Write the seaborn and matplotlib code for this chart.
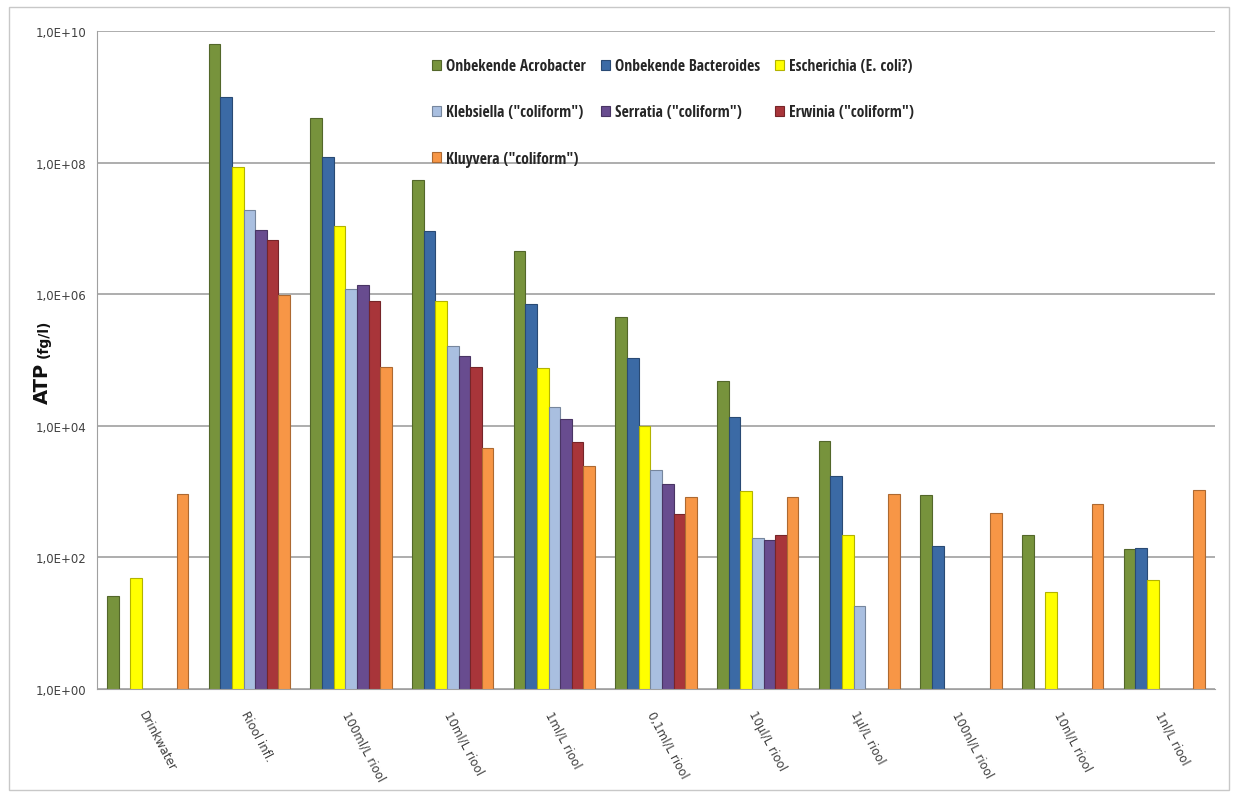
import numpy as np
import pandas as pd
import matplotlib
matplotlib.use("Agg")
import matplotlib.pyplot as plt
import matplotlib.colors as mcolors
import matplotlib.transforms as mtransforms
from matplotlib.patches import Rectangle
from matplotlib.ticker import FixedLocator, FuncFormatter, NullLocator
from matplotlib import font_manager
from matplotlib.textpath import TextPath
import seaborn as sns

categories = ["Drinkwater", "Riool infl.", "100ml/L riool", "10ml/L riool", "1ml/L riool",
              "0,1ml/L riool", "10µl/L riool", "1µl/L riool", "100nl/L riool",
              "10nl/L riool", "1nl/L riool"]

series_names = ["Onbekende Acrobacter", "Onbekende Bacteroides", "Escherichia (E. coli?)",
                "Klebsiella (\"coliform\")", "Serratia (\"coliform\")", "Erwinia (\"coliform\")",
                "Kluyvera (\"coliform\")"]

nan = np.nan
acrobacter  = [26, 6.3e9, 4.7e8, 5.5e7, 4.5e6, 4.5e5, 4.8e4, 5.8e3, 8.7e2, 2.2e2, 1.35e2]
bacteroides = [nan, 1.0e9, 1.2e8, 9.1e6, 7.0e5, 1.07e5, 1.35e4, 1.7e3, 1.5e2, nan, 1.4e2]
escherichia = [48, 8.5e7, 1.1e7, 8.0e5, 7.6e4, 1.0e4, 1.03e3, 2.2e2, nan, 30, 45]
klebsiella  = [nan, 1.9e7, 1.2e6, 1.65e5, 1.9e4, 2.1e3, 1.96e2, 18, nan, nan, nan]
serratia    = [nan, 9.3e6, 1.4e6, 1.15e5, 1.25e4, 1.3e3, 1.8e2, nan, nan, nan, nan]
erwinia     = [nan, 6.6e6, 7.9e5, 7.8e4, 5.6e3, 4.6e2, 2.2e2, nan, nan, nan, nan]
kluyvera    = [930, 9.8e5, 7.8e4, 4.6e3, 2.4e3, 8.3e2, 8.1e2, 9.3e2, 4.7e2, 6.5e2, 1.04e3]

colors = ["#77933C", "#3B6AA5", "#FFFF00", "#A9BFE0", "#684C8F", "#A8353A", "#F79646"]

series_values = [acrobacter, bacteroides, escherichia, klebsiella, serratia, erwinia, kluyvera]
rows = []
for name, vals in zip(series_names, series_values):
    for cat, v in zip(categories, vals):
        rows.append({"Sample": cat, "Series": name, "ATP": v})
df = pd.DataFrame(rows)

sns.set_style("white")
plt.rcParams['font.family'] = ['DejaVu Sans']

# pick a narrow bold font for the legend if one is installed
def rank(path):
    s = path.lower().replace("-", "").replace("_", "")
    if "liberationsansnarrow" in s:
        return 0
    if "notosans" in s and "condensedbold" in s and "extra" not in s and "semi" not in s:
        return 1
    if "opensans" in s and "condbold" in s.replace("condensed", "cond"):
        return 2
    if "roboto" in s and "condensed" in s:
        return 3
    if "dejavusans" in s:
        return 4
    return 5

cands = []
for f in font_manager.fontManager.ttflist:
    fn = f.fname.lower()
    if (("narrow" in fn or "condensed" in fn or "cond" in fn) and "bold" in fn
            and "oblique" not in fn and "italic" not in fn and "extrabold" not in fn
            and "semibold" not in fn):
        cands.append(f.fname)
cands.sort(key=rank)
if cands:
    base_prop = font_manager.FontProperties(fname=cands[0], size=12)
else:
    base_prop = font_manager.FontProperties(family="Roboto", weight="bold", size=12)

# scale legend font so the first label is about as wide as in the reference (~138 px)
tp = TextPath((0, 0), series_names[0], prop=base_prop)
w_px = tp.get_extents().width * 100 / 72.0
leg_size = min(12.5, 12 * 138 / w_px)
legend_prop = base_prop.copy()
legend_prop.set_size(leg_size)
fs_px = leg_size * 100 / 72.0

fig = plt.figure(figsize=(12.35, 8.03), dpi=100)
ax = fig.add_axes([0.0785, 0.141, 0.9055, 0.819])

sns.barplot(data=df, x="Sample", y="ATP", hue="Series", order=categories,
            hue_order=series_names, palette=colors, width=0.8, dodge=True,
            ax=ax, legend=True, linewidth=0.8, saturation=1, errorbar=None)
ax.set_yscale("log")

for p in ax.patches:
    fc = np.array(mcolors.to_rgb(p.get_facecolor()))
    p.set_edgecolor(tuple(fc * 0.7))

ax.set_ylim(1, 1e10)
ax.set_xlim(-0.5, len(categories) - 0.5)
ax.yaxis.set_major_locator(FixedLocator([1, 1e2, 1e4, 1e6, 1e8, 1e10]))
ax.yaxis.set_minor_locator(NullLocator())
ax.yaxis.set_major_formatter(FuncFormatter(lambda v, pos: "1,0E+%02d" % int(round(np.log10(v)))))
ax.grid(axis="y", color="#A0A0A0", linewidth=1.2)
ax.set_axisbelow(True)
for s in ["top", "right"]:
    ax.spines[s].set_visible(False)
ax.spines["left"].set_color("#A0A0A0")
ax.spines["bottom"].set_color("#A0A0A0")
ax.tick_params(axis="y", labelsize=8.5, colors="#404040", length=4, color="#A0A0A0")
ax.tick_params(axis="x", labelsize=8.5, colors="#404040", length=0, pad=14)
ax.set_xticks(range(len(categories)))
ax.set_xticklabels(categories, rotation=-62, ha="left", rotation_mode="anchor")
ax.set_xlabel("")
ax.set_ylabel("")

# y-axis title: "ATP" large, "(fg/l)" smaller, sharing a baseline
trans = mtransforms.blended_transform_factory(ax.transAxes, fig.transFigure)
ax.text(-0.044, 0.522, "ATP", rotation=90, rotation_mode="anchor", ha="center",
        va="baseline", fontsize=14, fontweight="bold", color="#111111", transform=trans,
        clip_on=False)
ax.text(-0.044, 0.578, "(fg/l)", rotation=90, rotation_mode="anchor", ha="center",
        va="baseline", fontsize=10, fontweight="bold", color="#111111", transform=trans,
        clip_on=False)

handles, labels = ax.get_legend_handles_labels()
order = [0, 3, 6, 1, 4, 2, 5]
ax.legend([handles[i] for i in order], [labels[i] for i in order], ncol=3, frameon=False,
          loc="upper left", bbox_to_anchor=(0.287, 0.98), prop=legend_prop,
          handlelength=0.6, handleheight=0.6, handletextpad=0.3,
          columnspacing=15 / fs_px, labelspacing=max(0.5, 46.5 / fs_px - 1.05))

fig.patches.append(Rectangle((0.007, 0.015), 0.988, 0.975, transform=fig.transFigure,
                             fill=False, edgecolor="#C8C8C8", linewidth=1))

fig.savefig("out.png", dpi=100)
